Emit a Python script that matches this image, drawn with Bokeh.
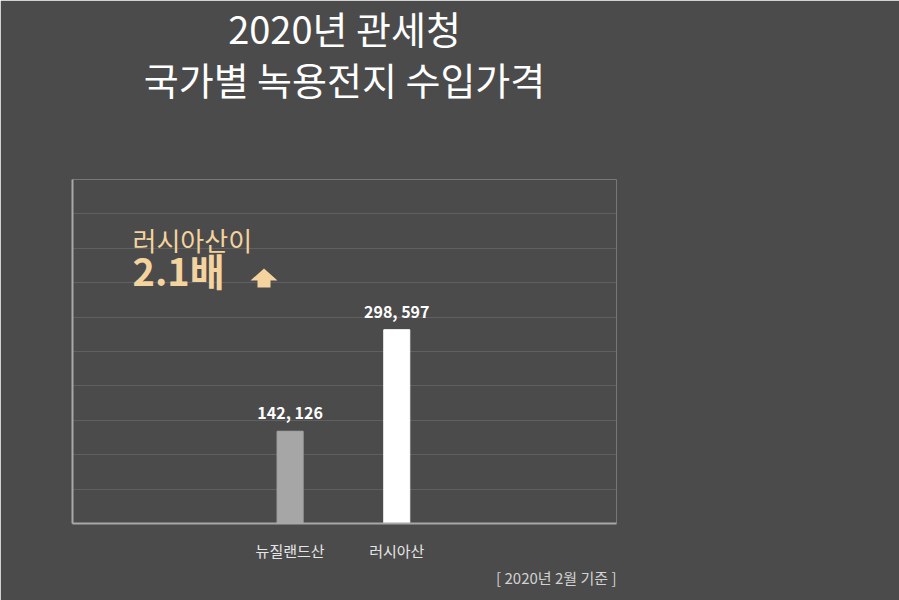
from bokeh.plotting import figure
from bokeh.models import ColumnDataSource, Range1d, FixedTicker, Label, Title, PolyAnnotation
from bokeh.core.properties import value
from bokeh.embed import file_html
from bokeh.resources import INLINE

# ----------------------------
# Data
# ----------------------------
countries = ["뉴질랜드산", "러시아산"]
prices = [142126, 298597]
bar_colors = ["#a6a6a6", "#ffffff"]
title_lines = ["2020년 관세청", "국가별 녹용전지 수입가격"]
callout_lines = ["러시아산이", "2.1배"]
note = "[ 2020년 2월 기준 ]"

BG = "#4b4b4b"
FONT = "Noto Sans CJK KR"
TAN = "#f4d39f"
Y_MAX = 530000
GRID_STEP = 53000

xs = list(range(len(countries)))
price_labels = [f"{v:,}".replace(",", ", ") for v in prices]
source = ColumnDataSource(dict(x=xs, price=prices, color=bar_colors, label=price_labels))

# ----------------------------
# Figure
# ----------------------------
p = figure(width=899, height=600, output_backend="svg", toolbar_location=None,
           x_range=Range1d(-2.04, 3.06), y_range=Range1d(0, Y_MAX),
           min_border_left=72, min_border_right=283, min_border_top=179, min_border_bottom=77)
p.background_fill_color = BG
p.border_fill_color = BG
p.outline_line_color = None

p.vbar(x="x", top="price", width=0.244, color="color", source=source)
p.text(x="x", y="price", text="label", source=source, y_offset=-19,
       text_align="center", text_baseline="alphabetic", text_color="white",
       text_font=value(FONT), text_font_style="bold", text_font_size="16px")

# axes / grid
p.xgrid.grid_line_color = None
p.ygrid.ticker = FixedTicker(ticks=list(range(0, Y_MAX + 1, GRID_STEP)))
p.ygrid.grid_line_color = "#606060"
p.ygrid.grid_line_width = 1
p.yaxis.ticker = FixedTicker(ticks=[])
p.yaxis.major_tick_line_color = None
p.yaxis.minor_tick_line_color = None
p.yaxis.axis_line_color = "#a8a8a8"
p.yaxis.axis_line_width = 2

p.xaxis.ticker = FixedTicker(ticks=xs)
p.xaxis.major_label_overrides = {i: c for i, c in zip(xs, countries)}
p.xaxis.major_tick_line_color = None
p.xaxis.minor_tick_line_color = None
p.xaxis.axis_line_color = "#a8a8a8"
p.xaxis.axis_line_width = 2
p.xaxis.major_label_standoff = 10
p.xaxis.major_label_text_color = "#e6e6e6"
p.xaxis.major_label_text_font = FONT
p.xaxis.major_label_text_font_size = "15px"

# ----------------------------
# Titles (above) and note (below)
# ----------------------------
# spacer between the frame and the title lines
p.add_layout(Title(text="\u200b", text_font_size="13px", standoff=55), "above")
p.add_layout(Title(text=title_lines[1], align="center", text_color="white", text_font=FONT,
                   text_font_size="38px", text_font_style="normal", standoff=3), "above")
p.add_layout(Title(text=title_lines[0], align="center", text_color="white", text_font=FONT,
                   text_font_size="38px", text_font_style="normal", standoff=-15), "above")
p.add_layout(Title(text=note, align="right", text_color="#d2d2d2", text_font=FONT,
                   text_font_size="15px", text_font_style="normal", standoff=2), "below")

# ----------------------------
# Callout
# ----------------------------
p.add_layout(Label(x=60, y=284, x_units="screen", y_units="screen", text=callout_lines[0],
                   text_align="left", text_baseline="middle", text_color=TAN,
                   text_font=FONT, text_font_size="26px"))
p.add_layout(Label(x=60, y=254, x_units="screen", y_units="screen", text=callout_lines[1],
                   text_align="left", text_baseline="middle", text_color=TAN,
                   text_font=FONT, text_font_style="bold", text_font_size="38px"))
# up-arrow icon
p.add_layout(PolyAnnotation(xs=[178, 191.5, 205, 198, 198, 185, 185],
                            ys=[243, 255, 243, 243, 236, 236, 243],
                            xs_units="screen", ys_units="screen",
                            fill_color=TAN, fill_alpha=1, line_color=None))

open("out.html", "w").write(file_html(p, INLINE))
